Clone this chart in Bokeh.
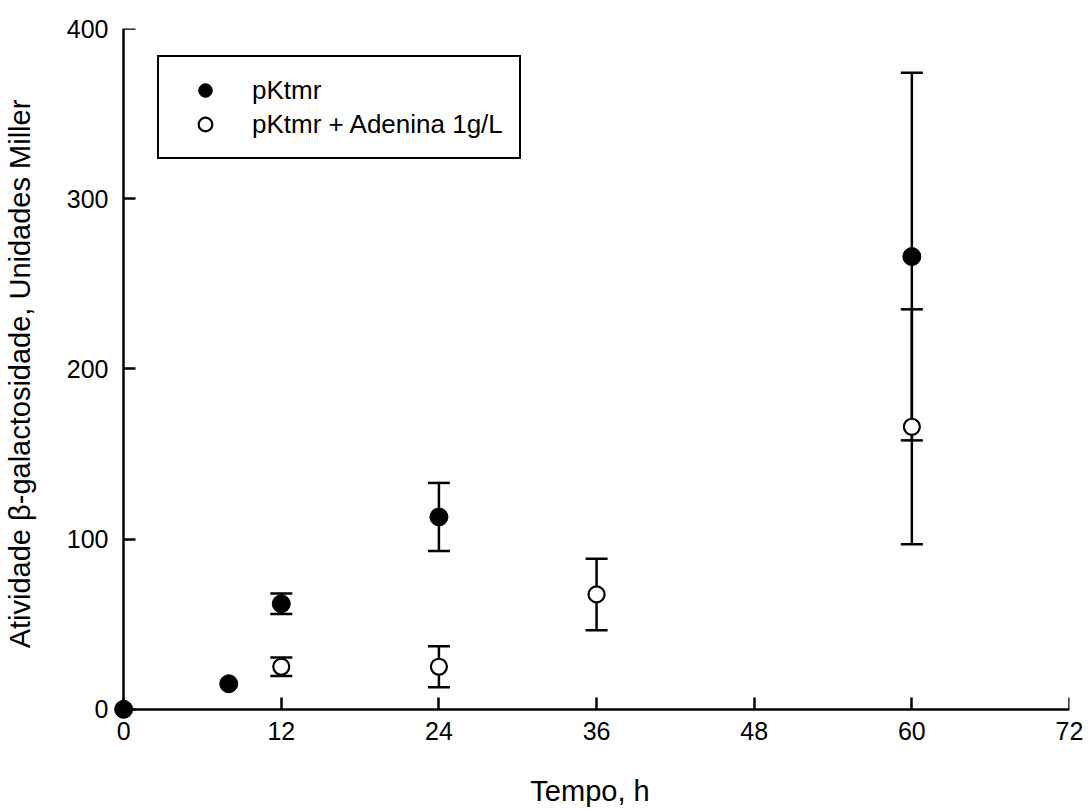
from bokeh.plotting import figure
from bokeh.models import (ColumnDataSource, Whisker, TeeHead, Legend, LegendItem,
                          FixedTicker, Range1d, LinearAxis)
from bokeh.embed import file_html
from bokeh.resources import INLINE

# β-galactosidase activity (Miller units) over time (h)
time_pktmr = [0, 8, 12, 24, 60]
act_pktmr = [0, 15, 62, 113, 266]
err_pktmr = [0, 0, 6, 20, 108]

time_aden = [12, 24, 36, 60]
act_aden = [25, 25, 67.5, 166]
err_aden = [5.5, 12, 21, 69]

x_ticks = [0, 12, 24, 36, 48, 60, 72]
y_ticks = [0, 100, 200, 300, 400]

FONT = "Liberation Sans"

# ranges start a little below zero so markers at the origin are not cut;
# the axis lines are pinned at zero by separate fixed-location axes
p = figure(width=1089, height=809, output_backend="svg", toolbar_location=None,
           x_range=Range1d(-1, 72), y_range=Range1d(-6, 400),
           min_border_left=110, min_border_right=20,
           min_border_top=28, min_border_bottom=90)
p.outline_line_color = None
p.grid.visible = False
p.background_fill_color = "white"
p.border_fill_color = "white"

# side axes: tick labels and titles only
for ax in (p.xaxis[0], p.yaxis[0]):
    ax.axis_line_color = None
    ax.major_tick_line_color = None
    ax.minor_tick_line_color = None
    ax.major_tick_in = 0
    ax.major_tick_out = 0
    ax.major_label_text_font = FONT
    ax.major_label_text_font_size = "25px"
    ax.major_label_text_color = "black"
    ax.axis_label_text_font = FONT
    ax.axis_label_text_font_size = "29px"
    ax.axis_label_text_font_style = "normal"
    ax.axis_label_text_color = "black"

p.xaxis.ticker = FixedTicker(ticks=x_ticks)
p.yaxis.ticker = FixedTicker(ticks=y_ticks)
p.xaxis.major_label_standoff = 2
p.yaxis.major_label_standoff = 2
p.xaxis.axis_label = "Tempo, h"
p.yaxis.axis_label = "Atividade β-galactosidade, Unidades Miller"
p.xaxis.axis_label_standoff = 32
p.yaxis.axis_label_standoff = 28

# axis lines with inward ticks, pinned at zero
x_line = LinearAxis(fixed_location=0, bounds=(0, 72),
                    ticker=FixedTicker(ticks=x_ticks))
y_line = LinearAxis(fixed_location=0, bounds=(0, 400),
                    ticker=FixedTicker(ticks=y_ticks))
for ax in (x_line, y_line):
    ax.axis_line_color = "black"
    ax.axis_line_width = 2.5
    ax.major_tick_line_color = "black"
    ax.major_tick_line_width = 2.5
    ax.major_tick_in = 12
    ax.major_tick_out = 0
    ax.minor_tick_line_color = None
    ax.major_label_text_color = None
    ax.major_label_text_font_size = "1px"
    ax.major_label_standoff = 0
p.add_layout(x_line, "below")
p.add_layout(y_line, "left")


def bar_source(xs, ys, es):
    keep = [i for i, e in enumerate(es) if e > 0]
    return ColumnDataSource(dict(
        x=[xs[i] for i in keep],
        lower=[ys[i] - es[i] for i in keep],
        upper=[ys[i] + es[i] for i in keep]))


for src in (bar_source(time_pktmr, act_pktmr, err_pktmr),
            bar_source(time_aden, act_aden, err_aden)):
    w = Whisker(source=src, base="x", lower="lower", upper="upper",
                line_color="black", line_width=2.5,
                upper_head=TeeHead(size=22, line_color="black", line_width=2.5),
                lower_head=TeeHead(size=22, line_color="black", line_width=2.5))
    p.add_layout(w)

r_filled = p.scatter(time_pktmr, act_pktmr, marker="circle", size=18,
                     fill_color="black", line_color="black", line_width=1)
r_open = p.scatter(time_aden, act_aden, marker="circle", size=16,
                   fill_color="white", line_color="black", line_width=2.2)

legend = Legend(items=[LegendItem(label="pKtmr", renderers=[r_filled]),
                       LegendItem(label="pKtmr + Adenina 1g/L", renderers=[r_open])],
                location=(47, 560), margin=0, padding=16, spacing=0,
                label_height=34, glyph_height=34, glyph_width=60,
                label_standoff=17,
                label_text_font=FONT, label_text_font_size="26px",
                label_text_color="black",
                border_line_color="black", border_line_width=2.5,
                border_line_alpha=1,
                background_fill_color="white", background_fill_alpha=1)
p.add_layout(legend, "center")

open("out.html", "w").write(file_html(p, INLINE))
